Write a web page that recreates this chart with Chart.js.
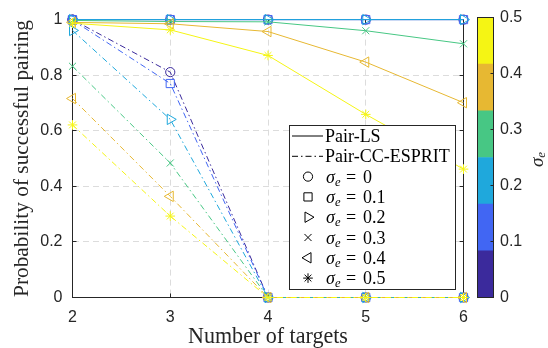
<!DOCTYPE html>
<html><head><meta charset="utf-8">
<script src="https://cdn.jsdelivr.net/npm/chart.js@4.4.0/dist/chart.umd.min.js"></script>
<style>
html,body{margin:0;padding:0;background:#fff;}
#wrap{position:relative;width:548px;height:348px;overflow:hidden;}
#main{position:absolute;left:0;top:0;}
#cbar{position:absolute;left:470px;top:0;}
</style></head><body>
<div id="wrap"><canvas id="main" width="548" height="348"></canvas><canvas id="cbar" width="78" height="348"></canvas></div>
<script>
// ---------- data ----------
const categories = ['2', '3', '4', '5', '6'];
const sigmaValues = ['0', '0.1', '0.2', '0.3', '0.4', '0.5'];
// Pair-LS
const lsSigma00 = [1, 1, 1, 1, 1];
const lsSigma01 = [1, 1, 1, 1, 1];
const lsSigma02 = [1, 1, 1, 1, 1];
const lsSigma03 = [0.997, 0.993, 0.992, 0.960, 0.913];
const lsSigma04 = [0.990, 0.985, 0.957, 0.847, 0.701];
const lsSigma05 = [0.987, 0.963, 0.871, 0.659, 0.462];
// Pair-CC-ESPRIT
const ccSigma00 = [1, 0.811, 0, 0, 0];
const ccSigma01 = [0.998, 0.770, 0, 0, 0];
const ccSigma02 = [0.961, 0.641, 0, 0, 0];
const ccSigma03 = [0.832, 0.484, 0, 0, 0];
const ccSigma04 = [0.716, 0.364, 0, 0, 0];
const ccSigma05 = [0.621, 0.293, 0, 0, 0];
const yTicks = [0, 0.2, 0.4, 0.6, 0.8, 1];
const yTickLabels = ['0', '0.2', '0.4', '0.6', '0.8', '1'];
const colorbarEdges = [0, 0.0833, 0.1667, 0.25, 0.3333, 0.4167, 0.5];
const colorbarTicks = [0, 0.1, 0.2, 0.3, 0.4, 0.5];
const colorbarTickLabels = ['0', '0.1', '0.2', '0.3', '0.4', '0.5'];

// ---------- styles ----------
const colors = ['#3b2a9c', '#4166f3', '#1fa8dc', '#47c784', '#e7b832', '#f5f514'];
const markers = [
  {style: 'circle', rot: 0, r: 4.6},
  {style: 'rect', rot: 0, r: 5.8},
  {style: 'triangle', rot: 90, r: 6},
  {style: 'crossRot', rot: 0, r: 5},
  {style: 'triangle', rot: -90, r: 6},
  {style: 'star', rot: 0, r: 4.8}
];
const ccDash = [6, 3, 1.5, 3];
const axisColor = '#262626';
const serif = '"Liberation Serif", "Times New Roman", serif';
const sans = '"Liberation Sans", Arial, sans-serif';

const lsData = [lsSigma00, lsSigma01, lsSigma02, lsSigma03, lsSigma04, lsSigma05];
const ccData = [ccSigma00, ccSigma01, ccSigma02, ccSigma03, ccSigma04, ccSigma05];

function fitSize(text, target, family) {
  const c = document.createElement('canvas').getContext('2d');
  c.font = '20px ' + family;
  return 20 * target / c.measureText(text).width;
}
const yTitle = 'Probability of successful pairing';
const xTitle = 'Number of targets';
const yTitleSize = fitSize(yTitle, 277, serif);
const xTitleSize = fitSize(xTitle, 160, serif);

// ---------- datasets (MATLAB draw order: later on top) ----------
let datasets = [];
for (let i = 0; i < 6; i++) {
  const base = {
    borderColor: colors[i], borderWidth: 1, fill: false, tension: 0,
    pointStyle: markers[i].style, pointRotation: markers[i].rot, pointRadius: markers[i].r,
    pointBorderColor: colors[i], pointBackgroundColor: 'rgba(0,0,0,0)', pointBorderWidth: 1,
    pointHoverRadius: markers[i].r, clip: false
  };
  datasets.push(Object.assign({}, base, {label: 'Pair-LS σe=' + sigmaValues[i], data: lsData[i]}));
  datasets.push(Object.assign({}, base, {label: 'Pair-CC-ESPRIT σe=' + sigmaValues[i], data: ccData[i], borderDash: ccDash}));
}
datasets = datasets.reverse(); // Chart.js draws dataset 0 last (on top)

// ---------- marker helper for legend ----------
function drawMarker(ctx, style, rot, x, y, r) {
  ctx.beginPath();
  const rad = rot * Math.PI / 180;
  if (style === 'circle') { ctx.arc(x, y, r, 0, Math.PI * 2); }
  else if (style === 'rect') { const s = Math.SQRT1_2 * r; ctx.rect(x - s, y - s, 2 * s, 2 * s); }
  else if (style === 'triangle') {
    let a = rad;
    ctx.moveTo(x + Math.sin(a) * r, y - Math.cos(a) * r);
    a += 2 * Math.PI / 3; ctx.lineTo(x + Math.sin(a) * r, y - Math.cos(a) * r);
    a += 2 * Math.PI / 3; ctx.lineTo(x + Math.sin(a) * r, y - Math.cos(a) * r);
    ctx.closePath();
  } else if (style === 'crossRot' || style === 'star') {
    const d = Math.SQRT1_2 * r;
    ctx.moveTo(x - d, y - d); ctx.lineTo(x + d, y + d);
    ctx.moveTo(x - d, y + d); ctx.lineTo(x + d, y - d);
    if (style === 'star') {
      ctx.moveTo(x - r, y); ctx.lineTo(x + r, y);
      ctx.moveTo(x, y - r); ctx.lineTo(x, y + r);
    }
  }
  ctx.stroke();
}

function drawSigmaText(ctx, x, baseY, value, size) {
  ctx.font = 'italic ' + size + 'px ' + serif;
  ctx.fillText('σ', x, baseY);
  let w = ctx.measureText('σ').width;
  ctx.font = 'italic ' + (size * 0.7) + 'px ' + serif;
  ctx.fillText('e', x + w, baseY + 3);
  ctx.font = size + 'px ' + serif;
  ctx.fillText('=', x + 20, baseY);
  ctx.fillText(value, x + 37, baseY);
}

const mainDeco = {
  id: 'mainDeco',
  beforeDatasetsDraw(chart) {
    const ctx = chart.ctx, a = chart.chartArea;
    const L = Math.floor(a.left) + 0.5, R = Math.floor(a.right) + 0.5;
    const T = Math.floor(a.top) + 0.5, B = Math.floor(a.bottom) + 0.5;
    ctx.save();
    ctx.strokeStyle = axisColor; ctx.lineWidth = 1; ctx.setLineDash([]);
    ctx.strokeRect(L, T, R - L, B - T);
    const xs = chart.scales.x, ys = chart.scales.y;
    ctx.beginPath();
    for (let i = 0; i < categories.length; i++) {
      const px = Math.floor(xs.getPixelForValue(i)) + 0.5;
      ctx.moveTo(px, B); ctx.lineTo(px, B - 4);
      ctx.moveTo(px, T); ctx.lineTo(px, T + 4);
    }
    for (const v of yTicks) {
      const py = Math.floor(ys.getPixelForValue(v)) + 0.5;
      ctx.moveTo(L, py); ctx.lineTo(L + 4, py);
      ctx.moveTo(R, py); ctx.lineTo(R - 4, py);
    }
    ctx.stroke();
    ctx.restore();
  },
  afterDraw(chart) {
    const ctx = chart.ctx;
    const L = 289, T = 125, R = 455, B = 289;
    ctx.save();
    ctx.fillStyle = '#fff'; ctx.fillRect(L, T, R - L, B - T);
    ctx.strokeStyle = axisColor; ctx.lineWidth = 1;
    ctx.strokeRect(L + 0.5, T + 0.5, R - L, B - T);
    const rowY = i => 136 + i * 20.3;
    ctx.strokeStyle = '#000'; ctx.fillStyle = '#000';
    ctx.beginPath(); ctx.moveTo(292, rowY(0)); ctx.lineTo(323, rowY(0)); ctx.stroke();
    ctx.setLineDash(ccDash);
    ctx.beginPath(); ctx.moveTo(292, rowY(1)); ctx.lineTo(323, rowY(1)); ctx.stroke();
    ctx.setLineDash([]);
    ctx.textBaseline = 'alphabetic'; ctx.textAlign = 'left';
    ctx.font = '18px ' + serif;
    ctx.fillText('Pair-LS', 325, rowY(0) + 6);
    ctx.fillText('Pair-CC-ESPRIT', 325, rowY(1) + 6);
    for (let i = 0; i < 6; i++) {
      const y = rowY(i + 2);
      drawMarker(ctx, markers[i].style, markers[i].rot, 308, y, markers[i].r);
      drawSigmaText(ctx, 326, y + 6, sigmaValues[i], 18);
    }
    ctx.restore();
  }
};

new Chart(document.getElementById('main'), {
  type: 'line',
  data: {labels: categories, datasets: datasets},
  plugins: [mainDeco],
  options: {
    responsive: false, animation: false, events: [],
    layout: {padding: {left: 0, right: 84.5, top: 17.5, bottom: 0}},
    plugins: {legend: {display: false}, tooltip: {enabled: false}},
    scales: {
      x: {
        type: 'category', offset: false,
        grid: {color: '#dcdcdc', lineWidth: 1, drawTicks: false},
        border: {display: false, dash: [6, 4]},
        ticks: {color: axisColor, font: {family: sans, size: 16}, padding: 10, maxRotation: 0},
        title: {display: true, text: xTitle, color: axisColor, font: {family: serif, size: xTitleSize, lineHeight: 1}, padding: {top: 0, bottom: 0}},
        afterFit: s => { s.height = 50.5; }
      },
      y: {
        min: 0, max: 1,
        afterBuildTicks: s => { s.ticks = yTicks.map(v => ({value: v})); },
        grid: {color: '#dcdcdc', lineWidth: 1, drawTicks: false},
        border: {display: false, dash: [6, 4]},
        ticks: {color: axisColor, font: {family: sans, size: 16}, padding: 10,
          callback: (v) => { const k = yTicks.indexOf(v); return k >= 0 ? yTickLabels[k] : ''; }},
        title: {display: true, text: yTitle, color: axisColor, font: {family: serif, size: yTitleSize, lineHeight: 1}, padding: {top: 12, bottom: 0}},
        afterFit: s => { s.width = 72.5; }
      }
    }
  }
});

// ---------- colorbar ----------
const cbarDeco = {
  id: 'cbarDeco',
  afterDraw(chart) {
    const ctx = chart.ctx, a = chart.chartArea;
    const L = Math.round(a.left) + 0.5, R = Math.round(a.right) - 0.5;
    const T = Math.floor(a.top) + 0.5, B = Math.floor(a.bottom) + 0.5;
    ctx.save();
    ctx.strokeStyle = axisColor; ctx.lineWidth = 1;
    ctx.strokeRect(L, T, R - L, B - T);
    const ys = chart.scales.y;
    ctx.beginPath();
    for (const v of colorbarTicks) {
      const py = Math.floor(ys.getPixelForValue(v)) + 0.5;
      ctx.moveTo(R, py); ctx.lineTo(R - 3, py);
    }
    ctx.stroke();
    // sigma_e label, rotated
    ctx.translate(68, 160);
    ctx.rotate(-Math.PI / 2);
    ctx.fillStyle = axisColor;
    ctx.textBaseline = 'middle'; ctx.textAlign = 'left';
    ctx.font = 'italic 19px ' + serif;
    const w = ctx.measureText('σ').width;
    ctx.fillText('σ', -7, 0);
    ctx.font = 'italic 13px ' + serif;
    ctx.fillText('e', -7 + w, 4);
    ctx.restore();
  }
};

new Chart(document.getElementById('cbar'), {
  type: 'bar',
  data: {
    labels: ['σe'],
    datasets: colors.map((c, i) => ({
      data: [[colorbarEdges[i], colorbarEdges[i + 1]]],
      backgroundColor: c, borderWidth: 0, barPercentage: 1, categoryPercentage: 1
    }))
  },
  plugins: [cbarDeco],
  options: {
    responsive: false, animation: false, events: [],
    layout: {padding: {left: 7, right: 0, top: 17.5, bottom: 50.5}},
    plugins: {legend: {display: false}, tooltip: {enabled: false}},
    scales: {
      x: {display: false, stacked: true, offset: true},
      y: {
        position: 'right', min: 0, max: 0.5, stacked: false,
        afterBuildTicks: s => { s.ticks = colorbarTicks.map(v => ({value: v})); },
        grid: {display: false, drawTicks: false}, border: {display: false},
        ticks: {color: axisColor, font: {family: sans, size: 16}, padding: 6,
          callback: (v) => { const k = colorbarTicks.indexOf(v); return k >= 0 ? colorbarTickLabels[k] : ''; }},
        afterFit: s => { s.width = 54; }
      }
    }
  }
});
</script>
</body></html>
